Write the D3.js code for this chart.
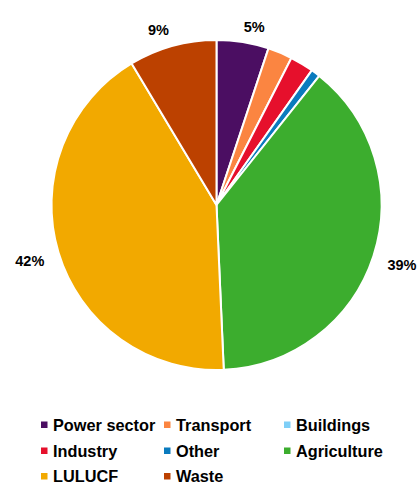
<!DOCTYPE html>
<html>
<head>
<meta charset="utf-8">
<script src="https://cdn.jsdelivr.net/npm/d3@7"></script>
<style>
  html, body { margin: 0; padding: 0; background: #fff; }
  svg { display: block; font-family: "Liberation Sans", Arial, sans-serif; }
</style>
</head>
<body>
<svg id="chart" width="419" height="485"></svg>
<script>
// Emission shares by sector (%)
const sectors = ["Power sector", "Transport", "Buildings", "Industry", "Other", "Agriculture", "LULUCF", "Waste"];
const shares  = [5.1, 2.4, 0, 2.3, 0.9, 38.6, 42.1, 8.6];
const colors  = ["#4B0E62", "#FB8541", "#7FCFF7", "#E6102C", "#0A7BBE", "#3CAD2E", "#F2A900", "#BC4100"];
// Only slices of this share or more carry a percentage label
const labelMin = 3;

const svg = d3.select("#chart");
const cx = 216.5, cy = 205, radius = 165;

const data = sectors.map((name, i) => ({ name, value: shares[i], color: colors[i] }));

const pie = d3.pie().value(d => d.value).sort(null);
const arcs = pie(data);
const arc = d3.arc().innerRadius(0).outerRadius(radius);

const g = svg.append("g").attr("transform", `translate(${cx},${cy})`);

g.selectAll("path.slice")
  .data(arcs.filter(a => a.data.value > 0))
  .join("path")
  .attr("class", "slice")
  .attr("d", arc)
  .attr("fill", d => d.data.color)
  .attr("stroke", "#fff")
  .attr("stroke-width", 2)
  .attr("stroke-linejoin", "round");

// Percentage labels just outside the rim; labels near the top are
// spread sideways so they sit clear of each other.
const fmt = v => d3.format(".0f")(v) + "%";
const labelFont = 14.5;
g.selectAll("text.pct")
  .data(arcs.filter(a => a.data.value >= labelMin))
  .join("text")
  .attr("class", "pct")
  .attr("font-size", labelFont)
  .attr("font-weight", "bold")
  .attr("fill", "#000")
  .attr("text-anchor", "middle")
  .attr("dominant-baseline", "central")
  .text(d => fmt(d.data.value))
  .each(function(d) {
    const mid = (d.startAngle + d.endAngle) / 2;
    const sx = Math.sin(mid), sy = -Math.cos(mid);
    const bb = this.getBBox();
    const halfCap = labelFont * 0.36;
    const r = radius + 14.5 + (bb.width / 2) * Math.abs(sx) + halfCap * Math.abs(sy);
    let x = r * sx, y = r * sy;
    if (sy < -0.9) { x += Math.sign(sx) * 8; y += 5.5; }
    d3.select(this).attr("x", x).attr("y", y);
  });

// Legend: three columns, filled row by row
const legendCols = [44, 167, 287];
const legendRows = [424.5, 450.5, 476];
const legend = svg.append("g").attr("class", "legend");
data.forEach((d, i) => {
  const x = legendCols[i % 3], y = legendRows[Math.floor(i / 3)];
  const item = legend.append("g").attr("transform", `translate(${x},${y})`);
  item.append("rect")
    .attr("x", -3).attr("y", -3).attr("width", 6.5).attr("height", 6.5)
    .attr("fill", d.color);
  item.append("text")
    .attr("x", 9)
    .attr("y", 0)
    .attr("dominant-baseline", "central")
    .attr("font-size", 16.3)
    .attr("font-weight", "bold")
    .attr("fill", "#000")
    .text(d.name);
});
</script>
</body>
</html>
